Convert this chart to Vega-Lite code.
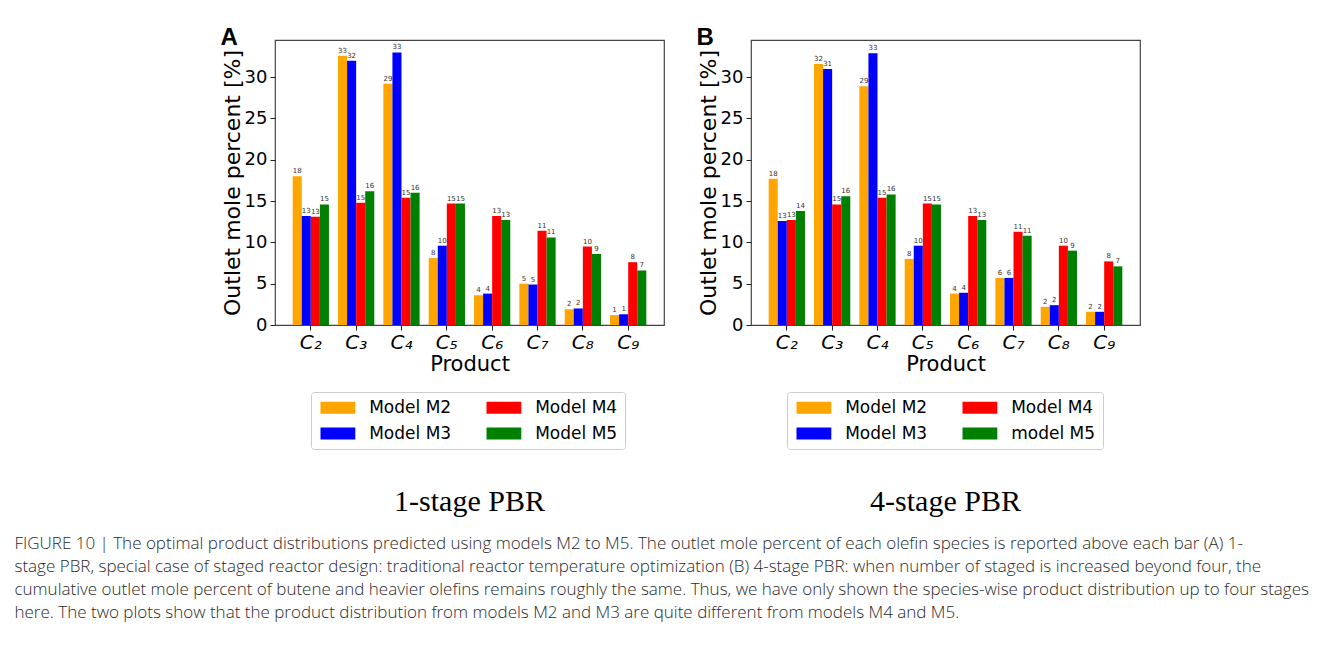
{
  "$schema": "https://vega.github.io/schema/vega-lite/v6.json",
  "autosize": {"type": "pad"},
  "padding": {"left": 14, "top": 26, "right": 5, "bottom": 5},
  "background": "white",
  "datasets": {
    "A": [
      {"product": "C₂", "model": "Model M2", "value": 18.0},
      {"product": "C₂", "model": "Model M3", "value": 13.2},
      {"product": "C₂", "model": "Model M4", "value": 13.1},
      {"product": "C₂", "model": "Model M5", "value": 14.6},
      {"product": "C₃", "model": "Model M2", "value": 32.6},
      {"product": "C₃", "model": "Model M3", "value": 32.0},
      {"product": "C₃", "model": "Model M4", "value": 14.8},
      {"product": "C₃", "model": "Model M5", "value": 16.2},
      {"product": "C₄", "model": "Model M2", "value": 29.2},
      {"product": "C₄", "model": "Model M3", "value": 33.0},
      {"product": "C₄", "model": "Model M4", "value": 15.4},
      {"product": "C₄", "model": "Model M5", "value": 16.0},
      {"product": "C₅", "model": "Model M2", "value": 8.1},
      {"product": "C₅", "model": "Model M3", "value": 9.6},
      {"product": "C₅", "model": "Model M4", "value": 14.7},
      {"product": "C₅", "model": "Model M5", "value": 14.7},
      {"product": "C₆", "model": "Model M2", "value": 3.6},
      {"product": "C₆", "model": "Model M3", "value": 3.8},
      {"product": "C₆", "model": "Model M4", "value": 13.2},
      {"product": "C₆", "model": "Model M5", "value": 12.7},
      {"product": "C₇", "model": "Model M2", "value": 5.0},
      {"product": "C₇", "model": "Model M3", "value": 4.9},
      {"product": "C₇", "model": "Model M4", "value": 11.4},
      {"product": "C₇", "model": "Model M5", "value": 10.6},
      {"product": "C₈", "model": "Model M2", "value": 1.9},
      {"product": "C₈", "model": "Model M3", "value": 2.0},
      {"product": "C₈", "model": "Model M4", "value": 9.5},
      {"product": "C₈", "model": "Model M5", "value": 8.6},
      {"product": "C₉", "model": "Model M2", "value": 1.2},
      {"product": "C₉", "model": "Model M3", "value": 1.3},
      {"product": "C₉", "model": "Model M4", "value": 7.6},
      {"product": "C₉", "model": "Model M5", "value": 6.6}
    ],
    "B": [
      {"product": "C₂", "model": "Model M2", "value": 17.7},
      {"product": "C₂", "model": "Model M3", "value": 12.6},
      {"product": "C₂", "model": "Model M4", "value": 12.7},
      {"product": "C₂", "model": "Model M5", "value": 13.8},
      {"product": "C₃", "model": "Model M2", "value": 31.6},
      {"product": "C₃", "model": "Model M3", "value": 31.0},
      {"product": "C₃", "model": "Model M4", "value": 14.6},
      {"product": "C₃", "model": "Model M5", "value": 15.6},
      {"product": "C₄", "model": "Model M2", "value": 28.9},
      {"product": "C₄", "model": "Model M3", "value": 32.9},
      {"product": "C₄", "model": "Model M4", "value": 15.4},
      {"product": "C₄", "model": "Model M5", "value": 15.8},
      {"product": "C₅", "model": "Model M2", "value": 8.0},
      {"product": "C₅", "model": "Model M3", "value": 9.6},
      {"product": "C₅", "model": "Model M4", "value": 14.7},
      {"product": "C₅", "model": "Model M5", "value": 14.6},
      {"product": "C₆", "model": "Model M2", "value": 3.8},
      {"product": "C₆", "model": "Model M3", "value": 3.9},
      {"product": "C₆", "model": "Model M4", "value": 13.2},
      {"product": "C₆", "model": "Model M5", "value": 12.7},
      {"product": "C₇", "model": "Model M2", "value": 5.7},
      {"product": "C₇", "model": "Model M3", "value": 5.7},
      {"product": "C₇", "model": "Model M4", "value": 11.3},
      {"product": "C₇", "model": "Model M5", "value": 10.8},
      {"product": "C₈", "model": "Model M2", "value": 2.2},
      {"product": "C₈", "model": "Model M3", "value": 2.4},
      {"product": "C₈", "model": "Model M4", "value": 9.6},
      {"product": "C₈", "model": "Model M5", "value": 9.0},
      {"product": "C₉", "model": "Model M2", "value": 1.6},
      {"product": "C₉", "model": "Model M3", "value": 1.6},
      {"product": "C₉", "model": "Model M4", "value": 7.7},
      {"product": "C₉", "model": "Model M5", "value": 7.1}
    ]
  },
  "config": {
    "font": "DejaVu Sans",
    "view": {"stroke": "#444", "strokeWidth": 1.2},
    "axis": {"labelFont": "DejaVu Sans", "titleFont": "DejaVu Sans", "labelColor": "#000", "titleColor": "#000", "titleFontWeight": "normal", "tickColor": "#222", "tickSize": 5, "domain": false, "grid": false},
    "concat": {"spacing": 31}
  },
  "title": {
    "text": [
      "FIGURE 10 | The optimal product distributions predicted using models M2 to M5. The outlet mole percent of each olefin species is reported above each bar (A) 1-",
      "stage PBR, special case of staged reactor design: traditional reactor temperature optimization (B) 4-stage PBR: when number of staged is increased beyond four, the",
      "cumulative outlet mole percent of butene and heavier olefins remains roughly the same. Thus, we have only shown the species-wise product distribution up to four stages",
      "here. The two plots show that the product distribution from models M2 and M3 are quite different from models M4 and M5."
    ],
    "orient": "bottom", "anchor": "start", "frame": "bounds", "dx": -206, "offset": 19,
    "font": "Open Sans", "fontSize": 17, "fontWeight": 300, "lineHeight": 23, "color": "#2a2a2a", "baseline": "top"
  },
  "resolve": {"scale": {"color": "independent"}, "legend": {"color": "independent"}},
  "hconcat": [
    {
      "title": {"text": "A", "anchor": "start", "frame": "bounds", "orient": "top", "font": "Liberation Sans", "fontSize": 24, "fontWeight": "bold", "baseline": "alphabetic", "offset": -30, "color": "#000"},
      "resolve": {"scale": {"color": "independent"}, "legend": {"color": "independent"}},
      "vconcat": [
        {
          "width": 389, "height": 285,
          "data": {"name": "A"},
          "title": {"text": "1-stage PBR", "orient": "bottom", "anchor": "middle", "frame": "group", "font": "Liberation Serif", "fontSize": 30, "fontWeight": "normal", "offset": 37, "color": "#000"},
          "encoding": {
            "x": {"field": "product", "type": "nominal", "sort": null, "scale": {"paddingInner": 0.2, "paddingOuter": 0.39}, "axis": {"title": "Product", "labelAngle": 0, "labelFontSize": 20, "labelFontStyle": "italic", "titleFontSize": 21, "labelPadding": 2, "titlePadding": 1}},
            "xOffset": {"field": "model", "type": "nominal", "sort": ["Model M2", "Model M3", "Model M4", "Model M5"], "scale": {"paddingInner": 0, "paddingOuter": 0}},
            "y": {"field": "value", "type": "quantitative", "scale": {"domain": [0, 34.5], "nice": false}, "axis": {"title": "Outlet mole percent [%]", "values": [0, 5, 10, 15, 20, 25, 30], "labelFontSize": 18, "titleFontSize": 22, "labelPadding": 3, "titlePadding": 0}}
          },
          "layer": [
            {
              "mark": {"type": "bar"},
              "encoding": {
                "color": {"field": "model", "type": "nominal",
                  "scale": {"domain": ["Model M2", "Model M3", "Model M4", "Model M5"], "range": ["#FFA500", "#0000FF", "#FF0000", "#008000"]},
                  "legend": {"orient": "none", "legendX": 36, "legendY": 352, "columns": 2, "title": null, "symbolType": "M-2.9,-1H2.9V1H-2.9Z", "symbolSize": 144, "symbolOffset": 11.4, "symbolStrokeWidth": 0, "labelFontSize": 17, "labelFont": "DejaVu Sans", "labelColor": "#000", "labelOffset": 22.8, "columnPadding": 32, "rowPadding": 8, "padding": 7, "strokeColor": "#cccccc", "cornerRadius": 3, "fillColor": "white"}
                }
              }
            },
            {
              "mark": {"type": "text", "baseline": "bottom", "dy": -2, "fontSize": 7, "color": "#333"},
              "encoding": {"text": {"field": "value", "type": "quantitative", "format": ".0f"}}
            }
          ]
        }
      ]
    },
    {
      "title": {"text": "B", "anchor": "start", "frame": "bounds", "orient": "top", "font": "Liberation Sans", "fontSize": 24, "fontWeight": "bold", "baseline": "alphabetic", "offset": -30, "color": "#000"},
      "resolve": {"scale": {"color": "independent"}, "legend": {"color": "independent"}},
      "vconcat": [
        {
          "width": 389, "height": 285,
          "data": {"name": "B"},
          "title": {"text": "4-stage PBR", "orient": "bottom", "anchor": "middle", "frame": "group", "font": "Liberation Serif", "fontSize": 30, "fontWeight": "normal", "offset": 37, "color": "#000"},
          "encoding": {
            "x": {"field": "product", "type": "nominal", "sort": null, "scale": {"paddingInner": 0.2, "paddingOuter": 0.39}, "axis": {"title": "Product", "labelAngle": 0, "labelFontSize": 20, "labelFontStyle": "italic", "titleFontSize": 21, "labelPadding": 2, "titlePadding": 1}},
            "xOffset": {"field": "model", "type": "nominal", "sort": ["Model M2", "Model M3", "Model M4", "Model M5"], "scale": {"paddingInner": 0, "paddingOuter": 0}},
            "y": {"field": "value", "type": "quantitative", "scale": {"domain": [0, 34.5], "nice": false}, "axis": {"title": "Outlet mole percent [%]", "values": [0, 5, 10, 15, 20, 25, 30], "labelFontSize": 18, "titleFontSize": 22, "labelPadding": 3, "titlePadding": 0}}
          },
          "layer": [
            {
              "mark": {"type": "bar"},
              "encoding": {
                "color": {"field": "model", "type": "nominal",
                  "scale": {"domain": ["Model M2", "Model M3", "Model M4", "Model M5"], "range": ["#FFA500", "#0000FF", "#FF0000", "#008000"]},
                  "legend": {"orient": "none", "legendX": 36, "legendY": 352, "columns": 2, "title": null, "symbolType": "M-2.9,-1H2.9V1H-2.9Z", "symbolSize": 144, "symbolOffset": 11.4, "symbolStrokeWidth": 0, "labelFontSize": 17, "labelFont": "DejaVu Sans", "labelColor": "#000", "labelOffset": 22.8, "columnPadding": 32, "rowPadding": 8, "padding": 7, "strokeColor": "#cccccc", "cornerRadius": 3, "fillColor": "white", "labelExpr": "datum.label == 'Model M5' ? 'model M5' : datum.label"}
                }
              }
            },
            {
              "mark": {"type": "text", "baseline": "bottom", "dy": -2, "fontSize": 7, "color": "#333"},
              "encoding": {"text": {"field": "value", "type": "quantitative", "format": ".0f"}}
            }
          ]
        }
      ]
    }
  ]
}
